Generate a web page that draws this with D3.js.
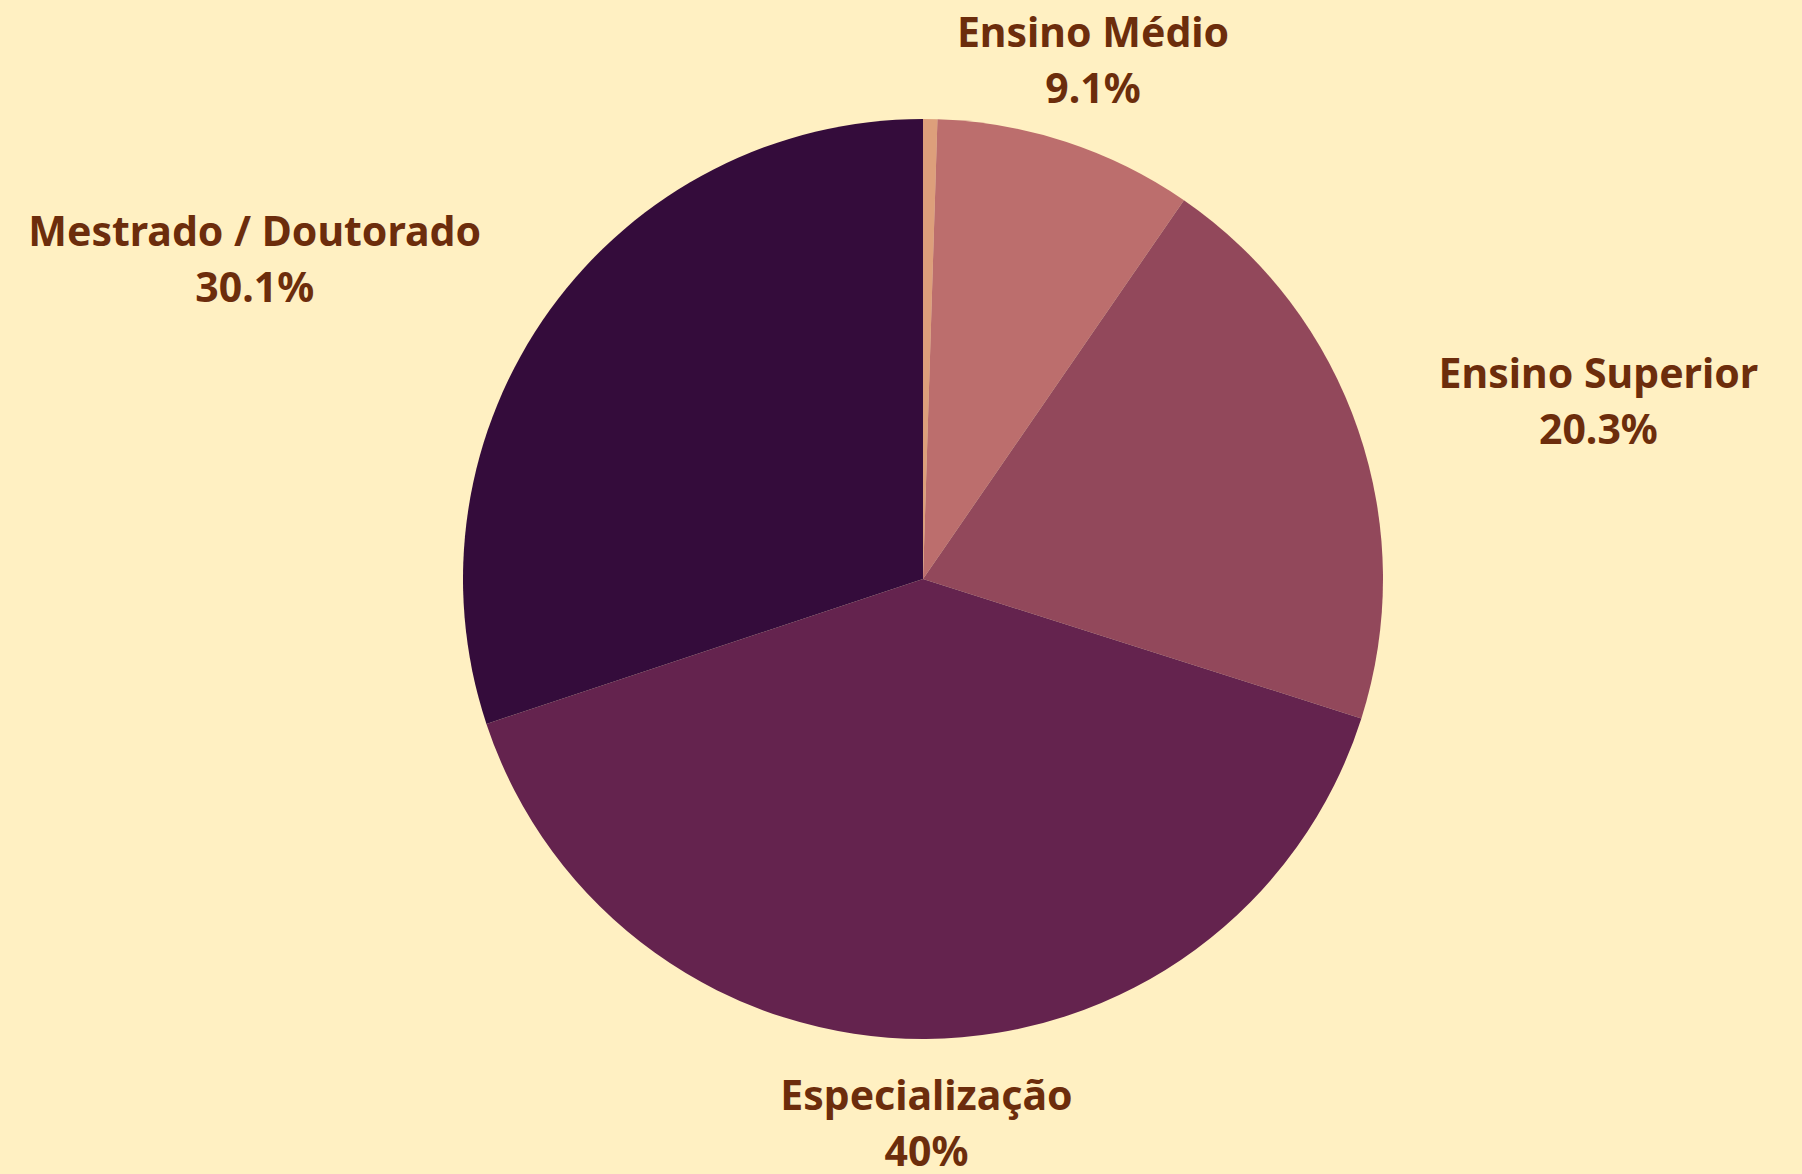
<!DOCTYPE html>
<html><head><meta charset="utf-8">
<script src="https://cdn.jsdelivr.net/npm/d3@7"></script>
<style>html,body{margin:0;padding:0;background:#fff0c2;}svg{display:block}</style>
</head><body>
<svg id="chart" width="1802" height="1174"></svg>
<script>
const categories = ["Outros", "Ensino Médio", "Ensino Superior", "Especialização", "Mestrado / Doutorado"];
const values = [0.5, 9.1, 20.3, 40, 30.1];
const labels = ["", "9.1%", "20.3%", "40%", "30.1%"];
const colors = ["#dd9f7b", "#bc6e6d", "#92485b", "#64234e", "#340c3b"];

const W = 1802, H = 1174;
const cx = 923, cy = 579, R = 460, LR = 545;
const svg = d3.select("#chart");
svg.append("rect").attr("width", W).attr("height", H).attr("fill", "#fff0c2");
const data = categories.map((c, i) => ({name: c, value: values[i], label: labels[i], color: colors[i]}));
const pie = d3.pie().value(d => d.value).sort(null);
const arc = d3.arc().innerRadius(0).outerRadius(R);
const arcs = pie(data);
const g = svg.append("g").attr("transform", `translate(${cx},${cy})`);
g.selectAll("path").data(arcs).join("path").attr("d", arc).attr("fill", d => d.data.color);

g.selectAll("text.lbl").data(arcs.filter(d => d.data.label !== "")).join("text")
  .attr("class", "lbl")
  .attr("font-family", "'Noto Sans', 'Open Sans', sans-serif")
  .attr("font-weight", "bold").attr("font-size", 41).attr("fill", "#6c2d0c")
  .attr("text-anchor", "middle")
  .each(function(d) {
    const a = (d.startAngle + d.endAngle) / 2;
    const x = LR * Math.sin(a), y = -LR * Math.cos(a);
    const s = Math.sin(a);
    const t = d3.select(this);
    const t1 = t.append("tspan").attr("x", x).attr("y", y - 14).text(d.data.name);
    const t2 = t.append("tspan").attr("x", x).attr("y", y + 42).text(d.data.label);
    const w = Math.max(t1.node().getComputedTextLength(), t2.node().getComputedTextLength());
    let xc = x;
    if (Math.abs(s) >= 0.5) xc = s > 0 ? x + w / 2 : x - w / 2;
    t1.attr("x", xc); t2.attr("x", xc);
  });
</script>
</body></html>
